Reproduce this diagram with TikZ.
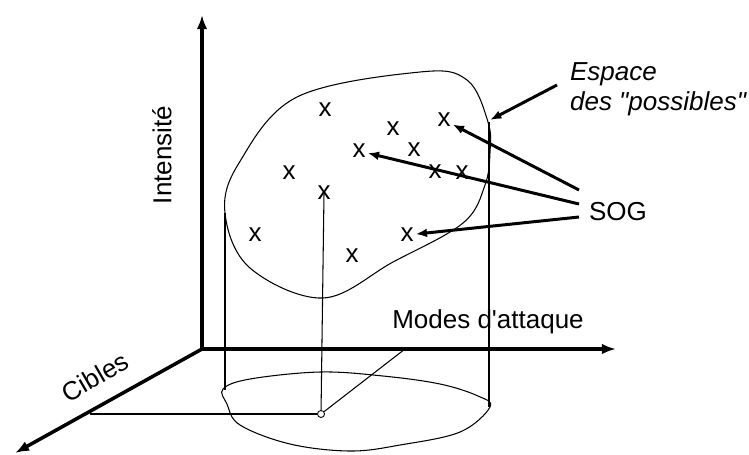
\documentclass[tikz,border=0pt]{standalone}
\usepackage{fontspec}
\setmainfont{Liberation Sans}
\usetikzlibrary{arrows.meta,calc}

\begin{document}
\begin{tikzpicture}[x=0.02cm,y=-0.02cm,
  axis/.style   ={line width=2pt, -{Latex[length=8pt,width=6pt]}},
  ptr/.style    ={line width=1.7pt, -{Latex[length=6.5pt,width=5pt]}},
  guide/.style  ={line width=0.6pt},
  crossmk/.style={inner sep=1pt, font=\fontsize{14.8}{17}\selectfont},
  lbl/.style    ={inner sep=1pt, font=\fontsize{14.8}{17}\selectfont},
]
\useasboundingbox (0,0) rectangle (749,454);
% axes
\coordinate (o) at (202,349);
\coordinate (ztip) at (202,15);
\coordinate (xtip) at (616,349);
\coordinate (ytip) at (15,453);
\draw[axis] (o) -- (ztip);
\draw[axis] (o) -- (xtip);
\draw[axis] (o) -- (ytip);
\node[lbl, rotate=90] (intens) at (162,155) {Intensité};
\node[lbl] (modes) at (488,322) {Modes d\textquotesingle attaque};
\node[lbl, rotate=30] (cibles) at (95,377) {Cibles};
% space of possibles (upper blob)
\draw[guide] plot[smooth cycle, tension=0.6] coordinates {
  (225,213) (239,163) (297,97) (420,72) (467,80) (488,122) (490,152)
  (485,185) (463,223) (393,262) (323,298) (250,268)};
% its footprint on the base plane
\draw[guide] plot[smooth cycle, tension=0.6] coordinates {
  (223,389) (250,379) (320,372) (383,376) (440,384) (478,396) (490,407)
  (460,432) (400,445) (350,451) (290,444) (240,425) (227,404)};
% cylinder sides
\draw[guide] (225,213) -- (225,390);
\draw[guide] (489,122) -- (489,407);
% x marks
\foreach \i/\px/\py in {1/325/110, 2/393/129, 3/444/120, 4/359/151, 5/414/150,
  6/289/173, 7/435/172, 8/462/173, 9/324/193, 10/255/235, 11/407/235, 12/352/256}
  \node[crossmk] (x\i) at (\px,\py) {x};
% projection of one point
\node[circle, draw, line width=0.5pt, inner sep=0pt, minimum size=4pt] (foot) at (321,414) {};
\coordinate (fy) at (90,414);
\coordinate (fx) at (405,349);
\draw[guide] (x9.center) -- (foot);
\draw[guide] (foot) -- (fy);
\draw[guide] (foot) -- (fx);
% SOG pointers
\node[lbl] (sog) at (618,212) {SOG};
\coordinate (s1) at (579,190);
\coordinate (s2) at (579,204);
\coordinate (s3) at (579,217);
\draw[ptr] (s1) -- (x3);
\draw[ptr] (s2) -- (x4);
\draw[ptr] (s3) -- (x11);
% label of the space
\node[lbl, align=left, anchor=west, font=\fontsize{14.8}{17}\selectfont\itshape] (espace) at (568,89) {Espace\\des \textquotedbl possibles\textquotedbl};
\coordinate (e0) at (557,85);
\coordinate (e1) at (490,120);
\draw[ptr] (e0) -- (e1);
\end{tikzpicture}
\end{document}
